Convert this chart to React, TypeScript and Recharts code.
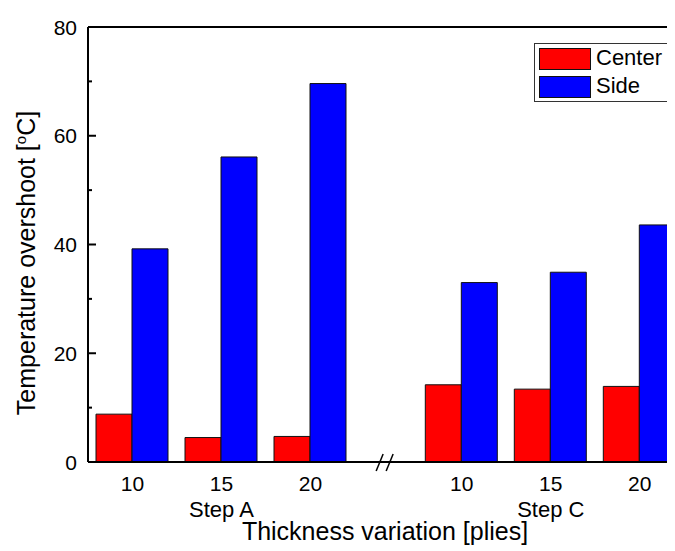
import { BarChart, Bar, XAxis, YAxis, ReferenceLine, ReferenceDot } from "recharts";

const plies = [10, 15, 20];
const centerA = [8.8, 4.5, 4.7];
const sideA = [39.2, 56.1, 69.6];
const centerC = [14.2, 13.4, 13.9];
const sideC = [33.0, 34.9, 43.6];
const yTicks = [0, 10, 20, 30, 40, 50, 60, 70, 80];

// Step C is drawn after the axis break, shifted along the x scale
const STEP_C_SHIFT = 18.5;
const BREAK_AT = 24.25;

const data = [
  ...plies.map((p, i) => ({ x: p, plies: p, step: "Step A", center: centerA[i], side: sideA[i] })),
  ...plies.map((p, i) => ({ x: p + STEP_C_SHIFT, plies: p, step: "Step C", center: centerC[i], side: sideC[i] })),
];

const series = [
  { key: "center", name: "Center", color: "#ff0000" },
  { key: "side", name: "Side", color: "#0000ff" },
];

const FONT = '"Liberation Sans", Arial, sans-serif';
const AXIS_X = 80;

function YTick({ y, payload }: any) {
  const major = payload.value % 20 === 0;
  return (
    <g>
      <line x1={AXIS_X} x2={AXIS_X + (major ? 8 : 4)} y1={y} y2={y} stroke="#000" strokeWidth={2} />
      {major && (
        <text x={AXIS_X - 11} y={y} dy="0.36em" textAnchor="end" fontSize={21} fontFamily={FONT} fill="#000">
          {payload.value}
        </text>
      )}
    </g>
  );
}

function XTick({ x, y, payload }: any) {
  const row = data.find((d) => d.x === payload.value);
  if (!row) return null;
  return (
    <g fontFamily={FONT} fill="#000" textAnchor="middle">
      <text x={x} y={y + 29} fontSize={21}>{row.plies}</text>
      {row.plies === 15 && (
        <text x={x} y={y + 55} fontSize={22}>{row.step}</text>
      )}
    </g>
  );
}

function BreakMark({ cx, cy }: any) {
  return (
    <g stroke="#000" strokeWidth={1.5}>
      <line x1={cx - 10} y1={cy + 9} x2={cx - 3} y2={cy - 8} />
      <line x1={cx} y1={cy + 9} x2={cx + 7} y2={cy - 8} />
    </g>
  );
}

function LegendBox() {
  return (
    <div style={{ position: "absolute", left: 526, top: 35, border: "1px solid #333", width: 137, height: 57, background: "#fff", fontFamily: FONT }}>
      {series.map((s, i) => (
        <div key={s.key} style={{ position: "relative", height: 29 }}>
          <div style={{ position: "absolute", left: 4, top: i === 0 ? 4 : 3, width: 50, height: 20, background: s.color, border: "1px solid #111" }} />
          <span style={{ position: "absolute", left: 61, top: i === 0 ? 1 : 0, fontSize: 22, lineHeight: "26px", color: "#000" }}>{s.name}</span>
        </div>
      ))}
    </div>
  );
}

export default function App() {
  return (
    <div style={{ position: "relative", width: 667, height: 543, overflow: "hidden" }}>
      <BarChart width={703} height={543} data={data} barGap={0} margin={{ top: 19, right: 0, bottom: 0, left: 0 }}>
        <XAxis
          type="number"
          dataKey="x"
          domain={[7.5, 42.5]}
          ticks={data.map((d) => d.x)}
          allowDataOverflow
          height={89}
          tickSize={0}
          tickMargin={0}
          tickLine={false}
          axisLine={{ stroke: "#000", strokeWidth: 2 }}
          tick={<XTick />}
          interval={0}
          label={{
            content: ({ viewBox }: any) => (
              <text x={377} y={viewBox.y + 78} textAnchor="middle" fontSize={25} fontFamily={FONT} fill="#000">
                Thickness variation [plies]
              </text>
            ),
          }}
        />
        <YAxis
          width={80}
          domain={[0, 80]}
          ticks={yTicks}
          interval={0}
          tickLine={false}
          axisLine={{ stroke: "#000", strokeWidth: 2 }}
          tick={<YTick />}
          label={{
            content: () => {
              const cx = 27;
              const cy = 255;
              return (
                <text x={cx} y={cy} transform={`rotate(-90, ${cx}, ${cy})`} textAnchor="middle" fontSize={25} fontFamily={FONT} fill="#000">
                  Temperature overshoot [<tspan dy={-9} fontSize={15}>o</tspan>
                  <tspan dy={9}>C]</tspan>
                </text>
              );
            },
          }}
        />
        <ReferenceLine y={80} stroke="#000" strokeWidth={2} />
        {series.map((s) => (
          <Bar
            key={s.key}
            dataKey={s.key}
            name={s.name}
            fill={s.color}
            stroke="#111"
            strokeWidth={1}
            barSize={36}
            isAnimationActive={false}
          />
        ))}
        <ReferenceDot x={BREAK_AT} y={0} r={0} ifOverflow="visible" shape={<BreakMark />} />
      </BarChart>
      <LegendBox />
    </div>
  );
}
